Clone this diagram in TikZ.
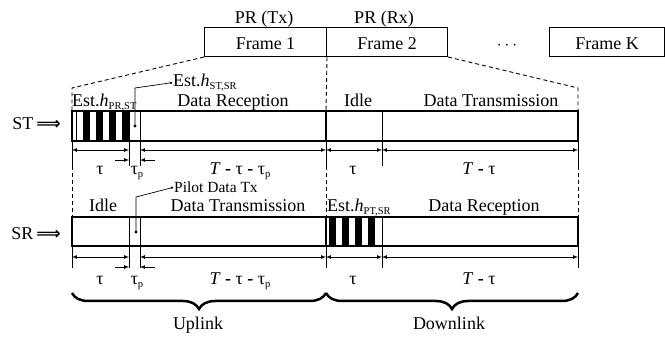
\documentclass[tikz,border=0pt]{standalone}
\usepackage{fontspec}
\setmainfont{Liberation Serif}
\newfontfamily\arrowfont{DejaVu Sans}
\usetikzlibrary{positioning}
\usetikzlibrary{arrows}
\usetikzlibrary{decorations.pathreplacing}

\newcommand{\lowsub}[1]{\raisebox{-2.5pt}{\fontsize{10.5}{12}\selectfont #1}}
\newcommand{\estlbl}[1]{Est.\textit{h}\lowsub{#1}}

\tikzset{
  every node/.style={font=\fontsize{18}{21}\selectfont, inner sep=0pt},
  framebox/.style={draw, line width=1pt, minimum height=29pt, text height=16pt, text depth=0pt, anchor=north west},
  bar/.style={draw, line width=1.3pt},
  divider/.style={line width=0.8pt},
  guide/.style={dashed, dash pattern=on 4pt off 3pt, line width=0.9pt},
  dim/.style={latex-latex, line width=0.7pt},
  leader/.style={line width=0.7pt},
  linkbrace/.style={decorate, decoration={brace, mirror, amplitude=16pt}, line width=2.5pt},
  rowname/.style={anchor=base east},
}

\begin{document}
\begin{tikzpicture}[x=1pt, y=-1pt]
  \useasboundingbox (0,0) rectangle (665,339);

  % PR frames
  \node[framebox, minimum width=122pt] (frame1) at (204,27) {Frame 1};
  \node[framebox, minimum width=121pt] (frame2) at (326,27) {Frame 2};
  \node[framebox, minimum width=115pt] (framek) at (549,27) {Frame K};
  \node[anchor=base] (dots) at (507,50) {$\cdots$};
  \node[anchor=base] (prtx) at (264,24) {PR (Tx)};
  \node[anchor=base] (prrx) at (384,24) {PR (Rx)};

  % zoom into frames 1 and 2
  \draw[guide] (frame1.south west) -- (72,88) -- (72,111);
  \draw[guide] (frame2.south east) -- (578,88) -- (578,111);
  \draw[guide] (frame1.south east) -- (326,111);

  % the two rows: bar, ticks, durations
  \foreach \r/\top/\bot/\arr/\tk/\lb in {st/111/141/150/166/175, sr/217/246/257/268/285} {
    \draw[bar] (72,\top) rectangle (578,\bot);
    \draw[bar] (326,\top) -- (326,\bot);
    \foreach \x in {129,140,382}
      \draw[divider] (\x,\top) -- (\x,\bot);
    \foreach \x/\n in {72/a,129/b,140/c,326/d,382/e,578/f} {
      \coordinate (\r-\n) at (\x,\arr);
      \draw[divider] (\x,\bot) -- (\x,\tk);
    }
    \draw[dim] (\r-a) -- (\r-b);
    \draw[dim] (\r-c) -- (\r-d);
    \draw[dim] (\r-d) -- (\r-e);
    \draw[dim] (\r-e) -- (\r-f);
    \draw[-latex, line width=0.7pt] ([xshift=-14pt,yshift=-10pt]\r-b) -- ([yshift=-10pt]\r-b);
    \draw[-latex, line width=0.7pt] ([xshift=15pt,yshift=-10pt]\r-c) -- ([yshift=-10pt]\r-c);
    \node[anchor=base] (\r-tau) at (100,\lb) {τ};
    \node[anchor=base] (\r-taup) at (137,\lb) {τ\lowsub{p}};
    \node[anchor=base] (\r-rest) at (240,\lb) {\textit{T} \textbf{-} τ \textbf{-} τ\lowsub{p}};
    \node[anchor=base] (\r-tau2) at (353,\lb) {τ};
    \node[anchor=base] (\r-rest2) at (479,\lb) {\textit{T} \textbf{-} τ};
  }

  % guides between the rows
  \foreach \x in {72,326,578}
    \draw[guide] (\x,166) -- (\x,217);

  % ST row
  \node[rowname] (stname) at (61,130) {ST\,{\arrowfont\bfseries\fontsize{17}{18}\selectfont ⟹}};
  \draw[divider] (76,111) -- (76,141);
  \foreach \s in {83,96,109,122}
    \fill (\s,111) rectangle (\s+6.5,141);
  \node[anchor=base west] (st-est) at (72,107) {\estlbl{PR,ST}};
  \node[anchor=base] (st-rx) at (233,107) {Data Reception};
  \node[anchor=base] (st-idle) at (358,107) {Idle};
  \node[anchor=base] (st-tx) at (491,107) {Data Transmission};
  \node[anchor=base west] (st-pilot) at (173,87) {\estlbl{ST,SR}};
  \coordinate (st-dot) at (135,126);
  \fill (st-dot) circle (1.6pt);
  \draw[leader] (st-dot) -- (135,88) -- ([xshift=-2pt]st-pilot.west) coordinate (st-end);
  \fill (st-end) circle (1.3pt);

  % SR row
  \node[rowname] (srname) at (61,240) {SR\,{\arrowfont\bfseries\fontsize{17}{18}\selectfont ⟹}};
  \foreach \s in {329,342,355,368}
    \fill (\s,217) rectangle (\s+6.5,246);
  \node[anchor=base] (sr-idle) at (103,212) {Idle};
  \node[anchor=base] (sr-tx) at (238,212) {Data Transmission};
  \node[anchor=base west] (sr-est) at (327,212) {\estlbl{PT,SR}};
  \node[anchor=base] (sr-rx) at (484,212) {Data Reception};
  \node[anchor=base west, font=\fontsize{15.5}{18}\selectfont] (sr-pilot) at (174,193) {Pilot Data Tx};
  \coordinate (sr-dot) at (136,232);
  \fill (sr-dot) circle (1.6pt);
  \draw[leader] (sr-dot) -- (136,197) -- ([xshift=-2pt]sr-pilot.west) coordinate (sr-end);
  \fill (sr-end) circle (1.3pt);

  % uplink / downlink
  \draw[linkbrace] (72,293) -- (326,293);
  \draw[linkbrace] (326,293) -- (578,293);
  \node[anchor=base] (uplink) at (198,330) {Uplink};
  \node[anchor=base] (downlink) at (449,330) {Downlink};
\end{tikzpicture}
\end{document}
